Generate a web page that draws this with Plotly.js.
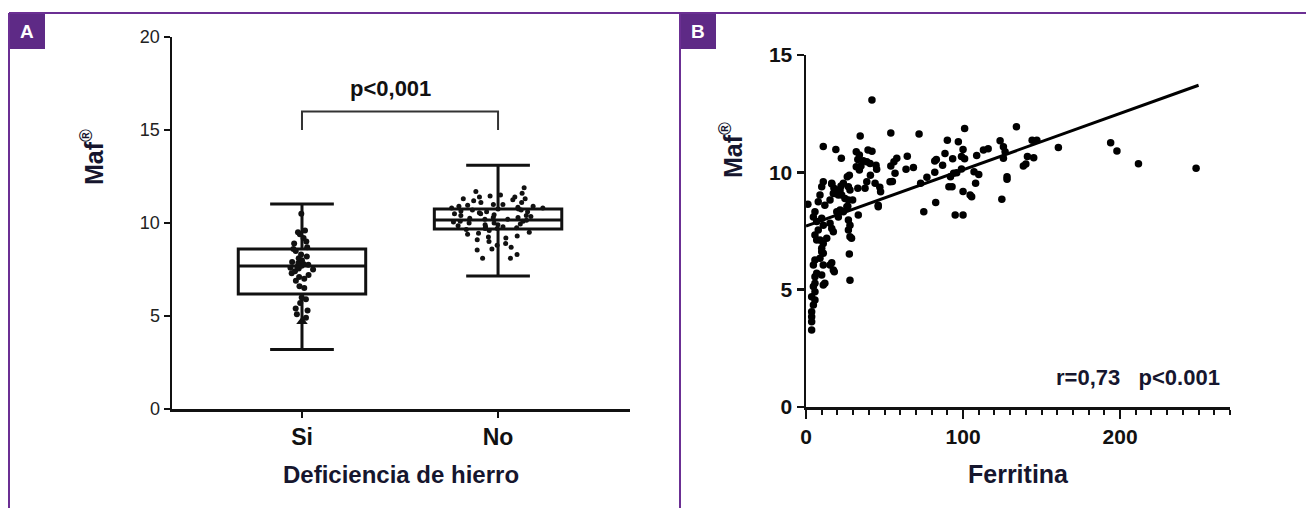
<!DOCTYPE html>
<html>
<head>
<meta charset="utf-8">
<script src="https://cdn.plot.ly/plotly-3.0.1.min.js"></script>
<style>html,body{margin:0;padding:0;background:#fff;}#chart{width:1306px;height:508px;}</style>
</head>
<body>
<div id="chart"></div>
<script>
// ---------- Panel A data ----------
const groups = ['Si', 'No'];
const boxQ1 = [6.18, 9.68];
const boxMedian = [7.69, 10.16];
const boxQ3 = [8.6, 10.75];
const boxLower = [3.2, 7.15];
const boxUpper = [11.02, 13.1];
const siValues = [10.5, 9.6, 9.5, 9.4, 9.2, 9.0, 8.9, 8.7, 8.6, 8.5, 8.3, 8.2, 8.1, 8.0, 7.9, 7.85, 7.8, 7.75, 7.7, 7.65, 7.6, 7.55, 7.5, 7.4, 7.3, 7.2, 7.1, 7.0, 6.9, 6.6, 6.5, 6.0, 5.9, 5.7, 5.4, 5.3, 5.1, 4.9];
const siTriangle = [4.7];
const noValues = [11.9, 11.7, 11.6, 11.5, 11.45, 11.4, 11.4, 11.3, 11.3, 11.25, 11.2, 11.1, 11.1, 11.0, 11.0, 10.95, 10.9, 10.9, 10.85, 10.8, 10.8, 10.75, 10.75, 10.7, 10.7, 10.65, 10.6, 10.6, 10.55, 10.5, 10.5, 10.45, 10.4, 10.4, 10.35, 10.3, 10.3, 10.25, 10.2, 10.2, 10.15, 10.1, 10.1, 10.05, 10.0, 10.0, 9.95, 9.9, 9.9, 9.85, 9.8, 9.8, 9.75, 9.7, 9.7, 9.65, 9.6, 9.5, 9.45, 9.4, 9.3, 9.25, 9.2, 9.1, 9.0, 8.9, 8.8, 8.7, 8.6, 8.55, 8.3, 8.1, 8.1];
const bracketLow = 15;
const bracketHigh = 16;
const pText = 'p<0,001';
const yTitle = 'Maf<sup>®</sup>';
const xTitleA = 'Deficiencia de hierro';

// ---------- Panel B data ----------
const ferritina = [42, 34.5, 54, 72, 11, 19, 22.5, 101, 90, 97, 123.6, 125.7, 126.8, 125.7, 116, 113, 108.7, 100, 99, 101, 93.4, 88.5, 83, 82, 87, 82, 77, 73, 99, 96, 107, 110, 108, 93, 91, 100, 104.5, 105.5, 82.6, 75, 95, 100, 124.7, 128, 128, 134, 144, 147, 160.7, 141, 145, 138.4, 140, 94, 92, 194, 198, 211.7, 248.4, 64.5, 68.4, 63.7, 57.8, 56, 54, 56.7, 44.6, 45, 44, 47, 47.5, 55, 39.5, 42, 32, 34, 33, 36.5, 38.7, 32, 35, 34, 41, 40.8, 33, 37.6, 38.7, 53.5, 46, 46, 26.3, 27.6, 27, 28, 22.7, 24.8, 29.7, 26.6, 33.3, 16.4, 17.8, 20.6, 22.3, 20.6, 11, 10, 8.9, 7.8, 12, 16.4, 17.4, 15.3, 23.8, 21.7, 18.5, 27, 26, 23.8, 21.7, 19.6, 20.6, 1.2, 5.7, 4.7, 6.8, 10, 11, 15.3, 16.4, 17.4, 27, 28, 27, 29, 28, 27.6, 28, 7.8, 5.7, 6.8, 8.9, 11, 13.2, 10, 10, 11, 8.9, 5.7, 4.7, 11, 15.3, 17.4, 16.4, 18, 6.8, 5.7, 10, 11, 12, 5.7, 4.7, 5.7, 3.6, 5.7, 4.7, 3.6, 3.6, 3.6, 3.6];
const mafB = [13.08, 11.55, 11.68, 11.63, 11.1, 10.97, 10.6, 11.87, 11.37, 11.3, 11.35, 11.09, 10.88, 10.6, 11.0, 10.95, 10.72, 10.97, 10.67, 10.58, 10.58, 10.8, 10.55, 10.48, 10.3, 10.0, 9.79, 9.53, 10.14, 9.98, 10.03, 9.91, 9.53, 9.39, 9.39, 9.18, 9.03, 8.96, 8.71, 8.32, 8.18, 8.18, 8.85, 9.81, 9.7, 11.94, 11.37, 11.37, 11.06, 10.67, 10.62, 10.27, 10.35, 9.96, 9.81, 11.26, 10.91, 10.37, 10.17, 10.69, 10.21, 10.13, 10.6, 10.45, 10.27, 9.96, 10.3, 10.13, 9.53, 9.36, 9.17, 9.61, 10.95, 10.9, 10.88, 10.74, 10.55, 10.49, 10.45, 10.24, 10.27, 10.1, 9.88, 10.38, 9.32, 9.32, 9.6, 9.6, 8.6, 8.53, 9.81, 9.88, 9.39, 9.25, 9.03, 8.89, 8.82, 8.56, 8.18, 9.5, 9.32, 9.25, 9.42, 9.03, 9.6, 9.39, 9.03, 8.75, 8.6, 9.53, 9.1, 8.82, 9.53, 9.25, 9.1, 8.82, 8.53, 8.32, 8.39, 8.32, 8.1, 8.64, 8.32, 8.1, 7.9, 8.04, 7.75, 7.83, 7.61, 7.47, 7.97, 7.75, 7.54, 7.19, 7.26, 6.52, 5.4, 7.54, 7.33, 7.12, 7.12, 6.97, 7.19, 6.76, 6.62, 6.55, 6.34, 6.26, 6.05, 6.05, 6.05, 5.84, 6.15, 5.76, 5.7, 5.55, 5.62, 5.2, 5.27, 5.27, 5.13, 4.91, 4.7, 4.56, 4.35, 4.06, 3.85, 3.63, 3.28];
const fitRange = [0, 250];
const fitIntercept = 7.71;
const fitSlope = 0.024;
const statText = 'r=0,73   p<0.001';
const xTitleB = 'Ferritina';

// ---------- geometry helpers (pixel -> paper) ----------
const W = 1306, H = 508;
const px = v => v / W;
const py = v => (H - v) / H;

const ink = '#111111';
const navy = '#16162e';
const purple = '#6b2f93';
const fontFam = 'Liberation Sans, Arial, sans-serif';

const traces = [
  {
    type: 'box', x: groups, q1: boxQ1, median: boxMedian, q3: boxQ3,
    lowerfence: boxLower, upperfence: boxUpper,
    xaxis: 'x', yaxis: 'y', width: 0.65, whiskerwidth: 0.5,
    line: {color: ink, width: 3}, fillcolor: 'rgba(0,0,0,0)', boxpoints: false,
    hoverinfo: 'skip'
  },
  {
    type: 'box', name: 'Si', x: siValues.map(() => groups[0]), y: siValues,
    xaxis: 'x', yaxis: 'y', width: 0.65, boxpoints: 'all', jitter: 0.22, pointpos: 0,
    line: {color: 'rgba(0,0,0,0)', width: 0}, fillcolor: 'rgba(0,0,0,0)',
    marker: {color: ink, size: 6}
  },
  {
    type: 'box', name: 'No', x: noValues.map(() => groups[1]), y: noValues,
    xaxis: 'x', yaxis: 'y', width: 0.65, boxpoints: 'all', jitter: 0.75, pointpos: 0,
    line: {color: 'rgba(0,0,0,0)', width: 0}, fillcolor: 'rgba(0,0,0,0)',
    marker: {color: ink, size: 5}
  },
  {
    type: 'scatter', mode: 'markers', x: siTriangle.map(() => groups[0]), y: siTriangle,
    xaxis: 'x', yaxis: 'y', marker: {symbol: 'triangle-up', size: 10, color: ink}
  },
  {
    type: 'scatter', mode: 'lines',
    x: [groups[0], groups[0], groups[1], groups[1]],
    y: [bracketLow, bracketHigh, bracketHigh, bracketLow],
    xaxis: 'x', yaxis: 'y', line: {color: '#333333', width: 2}, hoverinfo: 'skip'
  },
  {
    type: 'scatter', mode: 'markers', x: ferritina, y: mafB,
    xaxis: 'x2', yaxis: 'y2', cliponaxis: false,
    marker: {color: '#000000', size: 7.5}
  },
  {
    type: 'scatter', mode: 'lines', x: fitRange,
    y: fitRange.map(v => fitIntercept + fitSlope * v),
    xaxis: 'x2', yaxis: 'y2', line: {color: '#000000', width: 3}
  }
];

const axisCommon = {
  showline: true, linecolor: ink, linewidth: 2.5, ticks: 'outside', tickcolor: ink,
  tickwidth: 2.5, showgrid: false, zeroline: false, fixedrange: true
};

const layout = {
  width: W, height: H, margin: {l: 0, r: 0, t: 0, b: 0},
  paper_bgcolor: '#ffffff', plot_bgcolor: 'rgba(0,0,0,0)',
  showlegend: false, boxmode: 'overlay',
  font: {family: fontFam, color: ink},
  xaxis: Object.assign({}, axisCommon, {
    domain: [px(172), px(630)], anchor: 'y', type: 'category',
    categoryorder: 'array', categoryarray: groups,
    range: [-0.663, 1.673], ticklen: 6,
    tickfont: {size: 23, weight: 'bold', color: ink, family: fontFam},
    title: {text: xTitleA, standoff: 17,
            font: {size: 24, weight: 'bold', color: navy, family: fontFam}}
  }),
  yaxis: Object.assign({}, axisCommon, {
    domain: [py(409), py(37)], anchor: 'x', range: [0, 20], dtick: 5, tick0: 0, ticklen: 6,
    tickfont: {size: 18, color: '#222222', family: fontFam}
  }),
  xaxis2: Object.assign({}, axisCommon, {
    domain: [px(806), px(1230)], anchor: 'y2', range: [0, 270], dtick: 100, tick0: 0,
    ticklen: 9,
    minor: {dtick: 10, tick0: 0, ticks: 'outside', ticklen: 5, tickwidth: 2, tickcolor: ink},
    tickfont: {size: 21, weight: 'bold', color: ink, family: fontFam},
    title: {text: xTitleB, standoff: 19,
            font: {size: 25, weight: 'bold', color: navy, family: fontFam}}
  }),
  yaxis2: Object.assign({}, axisCommon, {
    domain: [py(407), py(55)], anchor: 'x2', range: [0, 15], dtick: 5, tick0: 0, ticklen: 7,
    tickfont: {size: 21, weight: 'bold', color: ink, family: fontFam}
  }),
  annotations: [
    {xref: 'x', yref: 'y', x: 0.5, y: 17.25, text: pText, showarrow: false, xshift: -10,
     xanchor: 'center', yanchor: 'middle',
     font: {size: 22, weight: 'bold', color: ink, family: fontFam}},
    {xref: 'paper', yref: 'paper', x: px(1222), y: py(377), xanchor: 'right', yanchor: 'middle',
     text: statText, showarrow: false,
     font: {size: 22, weight: 'bold', color: navy, family: fontFam}},
    {xref: 'paper', yref: 'paper', x: px(92), y: py(157), xanchor: 'center', yanchor: 'middle',
     text: yTitle, textangle: -90, showarrow: false,
     font: {size: 25, weight: 'bold', color: navy, family: fontFam}},
    {xref: 'paper', yref: 'paper', x: px(731), y: py(150), xanchor: 'center', yanchor: 'middle',
     text: yTitle, textangle: -90, showarrow: false,
     font: {size: 25, weight: 'bold', color: navy, family: fontFam}},
    {xref: 'paper', yref: 'paper', x: px(27), y: py(31), xanchor: 'center', yanchor: 'middle',
     text: 'A', showarrow: false,
     font: {size: 19, weight: 'bold', color: '#ffffff', family: fontFam}},
    {xref: 'paper', yref: 'paper', x: px(698), y: py(31), xanchor: 'center', yanchor: 'middle',
     text: 'B', showarrow: false,
     font: {size: 19, weight: 'bold', color: '#ffffff', family: fontFam}}
  ],
  shapes: [
    {type: 'line', xref: 'paper', yref: 'paper', x0: px(9), x1: 1, y0: py(13), y1: py(13), line: {color: purple, width: 2}},
    {type: 'line', xref: 'paper', yref: 'paper', x0: px(9), x1: px(9), y0: py(13), y1: 0, line: {color: purple, width: 2}},
    {type: 'line', xref: 'paper', yref: 'paper', x0: px(680), x1: px(680), y0: py(13), y1: 0, line: {color: purple, width: 2}},
    {type: 'rect', xref: 'paper', yref: 'paper', x0: px(9), x1: px(45), y0: py(13), y1: py(49), fillcolor: '#5e2a86', line: {width: 0}, layer: 'below'},
    {type: 'rect', xref: 'paper', yref: 'paper', x0: px(680), x1: px(716), y0: py(13), y1: py(49), fillcolor: '#5e2a86', line: {width: 0}, layer: 'below'}
  ]
};

Plotly.newPlot('chart', traces, layout, {displayModeBar: false, staticPlot: true});
</script>
</body>
</html>
